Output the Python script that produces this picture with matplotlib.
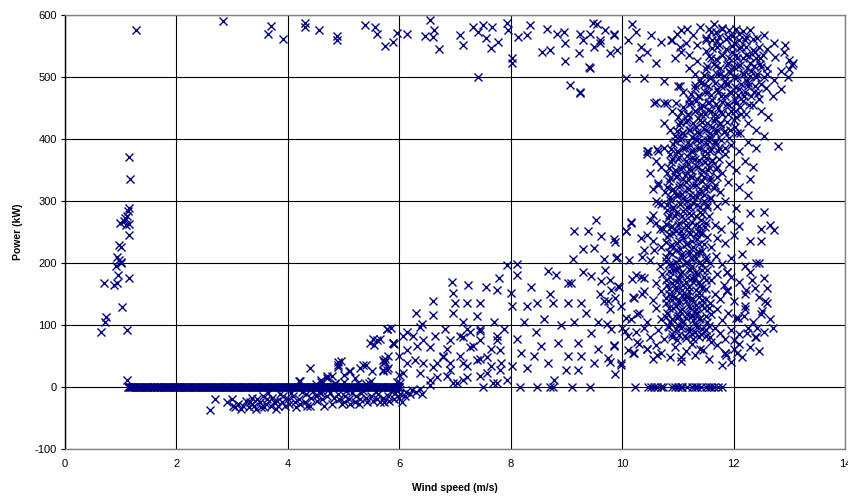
import matplotlib
matplotlib.use('Agg')
import matplotlib.pyplot as plt
import numpy as np

plt.rcParams['font.family'] = ['Liberation Sans', 'DejaVu Sans']
plt.rcParams['axes.unicode_minus'] = False

# values (wind speed m/s, power kW)
startup = [(1.27, 576), (1.15, 371), (1.17, 336), (1.15, 289), (1.13, 283), (1.12, 276),
           (1.08, 272), (1.05, 268), (0.98, 265), (1.15, 263), (1.14, 245), (0.97, 229),
           (1.0, 225), (1.1, 262), (0.93, 210), (0.97, 205), (0.92, 195), (1.0, 202),
           (0.95, 180), (0.93, 167), (0.87, 165), (0.7, 167), (1.15, 176), (0.73, 113),
           (0.72, 105), (0.65, 88), (1.03, 129), (1.12, 92), (1.12, 12), (1.0, 200)]

zero_x = [1.13, 1.16, 1.2, 1.25, 1.28, 1.33, 1.36, 1.41, 1.45, 1.48,
          1.53, 1.57, 1.6, 1.65, 1.69, 1.72, 1.77, 1.81, 1.85, 1.88,
          1.93, 1.97, 2.01, 2.05, 2.08, 2.13, 2.17, 2.2, 2.25, 2.29,
          2.33, 2.36, 2.41, 2.45, 2.48, 2.53, 2.57, 2.61, 2.64, 2.69,
          2.73, 2.77, 2.8, 2.85, 2.89, 2.93, 2.96, 3.01, 3.05, 3.09,
          3.12, 3.17, 3.21, 3.25, 3.28, 3.33, 3.37, 3.41, 3.44, 3.49,
          3.53, 3.57, 3.6, 3.65, 3.69, 3.73, 3.76, 3.81, 3.85, 3.89,
          3.92, 3.97, 4.01, 4.05, 4.08, 4.13, 4.17, 4.21, 4.24, 4.29,
          4.33, 4.37, 4.4, 4.45, 4.49, 4.53, 4.56, 4.61, 4.65, 4.69,
          4.72, 4.77, 4.81, 4.85, 4.88, 4.93, 4.97, 5.01, 5.04, 5.09,
          5.13, 5.17, 5.2, 5.25, 5.29, 5.33, 5.36, 5.41, 5.45, 5.49,
          5.52, 5.57, 5.61, 5.65, 5.68, 5.73, 5.77, 5.81, 5.84, 5.89,
          5.93, 5.97, 6.0]

zero_x2 = [1.15, 1.18, 1.22, 1.27, 1.31, 1.35, 1.39, 1.43, 1.47, 1.51,
           1.55, 1.59, 1.63, 1.67, 1.71, 1.75, 1.79, 1.83, 1.87, 1.91,
           1.95, 1.99, 2.03, 2.07, 2.11, 2.15, 2.19, 2.23, 2.27, 2.31,
           2.35, 2.39, 2.43, 2.47, 2.51, 2.55, 2.59, 2.63, 2.67, 2.71,
           2.75, 2.79, 2.83, 2.87, 2.91, 2.95, 2.99, 3.03, 3.07, 3.11,
           3.15, 3.19, 3.23, 3.27, 3.31, 3.35, 3.39, 3.43, 3.47, 3.51,
           3.55, 3.59, 3.63, 3.67, 3.71, 3.75, 3.79, 3.83, 3.87, 3.91,
           3.95, 3.99, 4.03, 4.07, 4.11, 4.15, 4.19, 4.23, 4.27, 4.31,
           4.35, 4.39, 4.43, 4.47, 4.51, 4.55, 4.59, 4.63, 4.67, 4.71,
           4.75, 4.79, 4.83, 4.87, 4.91, 4.95, 4.99, 5.03, 5.07, 5.11,
           5.15, 5.19, 5.23, 5.27, 5.31, 5.35, 5.39, 5.43, 5.47, 5.51,
           5.55, 5.59, 5.63, 5.67, 5.71, 5.75, 5.79, 5.83, 5.87, 5.91,
           5.95, 5.99]

stop_x = [8.17, 8.47, 8.7, 8.75, 9.1, 9.43, 10.23, 10.47, 10.52, 10.58,
          10.63, 10.7, 10.74, 10.9, 10.95, 11.0, 11.05, 11.08, 11.17, 11.25,
          11.3, 11.35, 11.42, 11.5, 11.55, 11.6, 11.65, 11.72, 11.8, 7.5]

negative = [(2.6, -37), (2.7, -20), (2.9, -25), (3.0, -20), (3.02, -30), (3.05, -33), (3.1, -27),
            (3.15, -35), (3.2, -30), (3.25, -22), (3.3, -33), (3.32, -25), (3.35, -18), (3.4, -30),
            (3.42, -35), (3.45, -20), (3.5, -25), (3.52, -32), (3.55, -15), (3.6, -28), (3.62, -20),
            (3.65, -10), (3.7, -30), (3.72, -18), (3.75, -25), (3.8, -22), (3.82, -30), (3.85, -12),
            (3.9, -25), (3.92, -15), (3.95, -30), (4.0, -20), (4.02, -28), (4.05, -10), (4.1, -15),
            (4.12, -25), (4.2, -20), (4.22, -28), (4.25, -8), (4.3, -25), (4.32, -12), (4.4, -30),
            (4.42, -18), (4.5, -15), (4.52, -22), (4.55, -8), (4.6, -10), (4.62, -20), (4.7, -15),
            (4.72, -5), (4.8, -28), (4.82, -18), (4.9, -12), (4.92, -20), (5.0, -25), (5.02, -15),
            (5.1, -20), (5.12, -28), (5.15, -10), (5.2, -25), (5.22, -15), (5.3, -20), (5.32, -10),
            (5.4, -18), (5.42, -25), (5.5, -15), (5.52, -22), (5.6, -20), (5.62, -12), (5.7, -18),
            (5.72, -25), (5.8, -15), (5.82, -22), (5.9, -20), (5.92, -10), (6.0, -18), (6.02, -12),
            (6.1, -15), (6.12, -8), (6.2, -12), (6.22, -5), (6.3, -8), (6.4, -12), (3.35, -28),
            (3.58, -33), (3.78, -35), (4.15, -32), (4.35, -30), (4.65, -30), (4.98, -28),
            (5.28, -27), (5.65, -24), (6.05, -25), (4.45, -6), (4.75, -9), (5.05, -7), (5.35, -6),
            (5.58, -8), (5.85, -6), (4.85, 6), (5.45, 7), (5.95, 8)]

low = [(4.4, 30), (4.2, 10), (4.5, 5), (4.6, 12), (4.7, 15), (4.8, 18), (4.9, 35), (4.95, 42),
       (5.0, 20), (5.1, 25), (5.2, 15), (5.3, 30), (5.4, 35), (5.5, 10), (5.6, 75), (5.65, 78),
       (5.55, 68), (5.8, 50), (5.75, 40), (5.8, 30), (5.85, 95), (5.9, 70), (6.0, 50), (6.0, 20),
       (5.7, 25), (5.4, 5), (5.0, 8), (4.85, 5), (5.78, 93), (5.53, 77), (5.48, 71), (5.89, 71),
       (5.71, 44), (5.72, 40), (4.9, 41), (4.9, 32), (5.35, 35), (5.12, 25), (5.51, 25),
       (5.7, 27), (4.22, 9), (4.7, 17), (4.6, 8), (5.25, 6)]

rising = [(6.94, 169), (6.96, 152), (7.24, 165), (6.61, 138), (6.3, 119), (6.6, 116), (7.21, 136),
          (7.55, 162), (7.79, 176), (7.76, 156), (7.94, 196), (8.12, 198), (8.12, 180), (8.0, 152),
          (8.03, 130), (8.36, 162), (8.66, 187), (8.81, 181), (9.02, 168), (9.14, 251), (9.38, 251),
          (9.53, 270), (9.62, 244), (9.86, 238), (10.16, 266), (10.07, 251), (9.11, 206), (9.29, 222),
          (9.5, 224), (9.68, 206), (9.89, 208), (9.44, 179), (9.62, 171), (9.08, 168), (9.26, 136),
          (9.02, 136), (9.8, 157), (9.92, 163), (9.74, 138), (9.98, 130), (8.75, 136), (8.48, 136),
          (8.3, 130), (8.6, 109), (8.24, 104), (8.12, 77), (8.18, 55), (8.42, 50), (8.66, 39),
          (8.78, 12), (8.3, 31), (8.03, 34), (9.02, 50), (9.2, 71), (9.44, 87), (9.56, 61),
          (9.86, 66), (9.98, 39), (9.26, 50), (9.8, 93), (10.1, 82), (10.22, 55), (9.56, 104),
          (9.14, 104), (8.84, 71), (8.54, 66), (8.99, 28), (9.2, 28), (9.5, 39), (9.74, 47),
          (7.09, 82), (6.85, 61), (6.67, 39), (6.43, 39), (6.13, 39), (6.07, 82), (6.4, 101),
          (7.15, 104), (7.4, 114), (7.45, 90), (7.7, 104), (7.88, 93), (7.76, 82), (7.33, 66),
          (7.09, 50), (6.91, 39), (7.21, 34), (7.45, 45), (7.64, 61), (7.82, 39), (7.45, 18),
          (7.15, 12), (6.85, 18), (6.55, 12), (6.37, -4), (6.01, 7), (5.77, 28), (5.74, 45),
          (5.89, 71), (5.77, 93), (6.97, 120), (7.0, 136), (7.45, 136), (6.64, 82), (6.25, 82),
          (6.31, 66), (7.64, 34), (7.94, 12), (7.76, 7), (7.03, 7), (6.79, 50), (7.27, 88),
          (6.82, 93), (6.13, 89), (6.37, 97), (6.43, 76), (6.55, 65), (6.13, 59), (6.28, 43),
          (6.07, 22), (6.37, 22), (6.61, 33), (6.79, 49), (6.91, 76), (7.15, 81), (7.27, 65),
          (7.45, 76), (7.57, 49), (7.75, 76), (7.81, 59), (7.39, 43), (7.15, 38), (6.91, 27),
          (6.67, 16), (7.21, 16), (7.57, 22), (7.81, 27), (7.69, 6), (6.97, 6), (6.55, 3),
          (7.45, 94), (7.21, 94), (10.46, 380), (10.64, 329), (10.64, 297), (10.55, 278),
          (10.67, 254), (10.15, 264), (10.06, 251), (9.88, 234), (10.33, 240), (10.39, 221),
          (10.57, 221), (9.91, 210), (10.12, 204), (9.7, 188), (9.79, 172), (9.94, 161),
          (10.18, 174), (10.33, 177), (9.88, 144), (10.21, 144), (10.39, 155), (9.67, 139),
          (9.79, 125), (10.06, 111), (10.27, 117), (9.73, 101), (10.0, 95), (9.85, 68), (9.79, 40),
          (9.97, 35), (9.88, 21), (10.27, 73), (10.45, 62), (10.63, 51), (11.05, 49), (11.4, 62),
          (11.86, 51), (8.9, 100), (9.35, 120), (8.45, 88), (9.6, 150), (8.7, 150), (9.3, 185)]

top = [(2.84, 590), (3.69, 582), (3.65, 570), (3.92, 561), (4.31, 587), (4.31, 581), (4.55, 575),
       (4.88, 560), (4.89, 566), (5.39, 584), (5.57, 580), (5.6, 570), (5.75, 550), (5.89, 557),
       (5.95, 571), (6.13, 570), (6.55, 591), (6.46, 566), (6.6, 565), (6.62, 575), (6.72, 545),
       (7.09, 568), (7.15, 552), (7.33, 580), (7.42, 572), (7.51, 584), (7.66, 580), (7.56, 563),
       (7.77, 557), (7.64, 546), (7.42, 500), (7.93, 587), (7.95, 575), (8.02, 530), (8.02, 522),
       (8.13, 565), (8.29, 568), (8.34, 584), (8.65, 577), (8.71, 544), (8.56, 540), (8.83, 570),
       (8.95, 572), (8.97, 554), (8.97, 525), (9.25, 570), (9.22, 538), (9.4, 516), (9.48, 587),
       (9.6, 554), (9.7, 575), (9.78, 538), (9.85, 567), (9.07, 487), (9.25, 476), (9.55, 586),
       (9.43, 570), (9.61, 559), (9.85, 570), (9.91, 543), (9.43, 515), (10.18, 586),
       (10.24, 573), (10.33, 548), (10.51, 567), (10.6, 523), (10.69, 556), (10.87, 559),
       (10.99, 570), (11.04, 548), (11.16, 578), (10.06, 499), (10.39, 499), (10.75, 493),
       (11.04, 485), (10.57, 458), (10.75, 458), (10.96, 458), (10.45, 376), (10.63, 384),
       (9.25, 474), (9.3, 560), (9.5, 548), (10.1, 560), (10.3, 530), (10.45, 540)]

band = [(10.45, 62), (10.55, 45), (10.7, 55), (10.85, 48), (10.95, 65), (11.05, 42), (11.15, 58),
        (11.3, 52), (11.45, 60), (11.55, 45), (11.7, 68), (11.85, 55), (12.0, 62), (12.15, 48),
        (10.3, 70), (10.2, 55), (11.25, 70), (11.6, 72), (11.95, 40), (12.3, 65), (12.45, 58),
        (10.1, 60), (11.8, 35), (10.6, 68),
        (10.25, 88), (10.4, 95), (10.5, 80), (10.65, 92), (10.75, 78), (10.82, 98), (10.9, 85),
        (10.98, 75), (11.05, 95), (11.12, 82), (11.2, 90), (11.28, 77), (11.35, 97), (11.42, 85),
        (11.5, 92), (11.58, 80), (11.66, 95), (11.75, 87), (11.85, 78), (11.95, 92), (12.1, 85),
        (12.25, 95), (12.4, 80), (12.55, 88), (12.7, 95), (10.05, 90), (11.0, 100), (11.3, 88),
        (12.0, 75),
        (10.3, 120), (10.45, 105), (10.6, 128), (10.7, 110), (10.8, 120), (10.86, 105),
        (10.92, 128), (10.98, 112), (11.04, 122), (11.1, 104), (11.16, 118), (11.22, 127),
        (11.28, 108), (11.34, 120), (11.4, 112), (11.46, 128), (11.52, 104), (11.6, 118),
        (11.7, 125), (11.8, 108), (11.9, 120), (12.05, 112), (12.2, 125), (12.35, 105),
        (12.5, 118), (12.65, 110), (10.15, 110), (11.0, 115), (11.25, 115),
        (10.35, 150), (10.55, 140), (10.7, 155), (10.78, 135), (10.84, 150), (10.9, 140),
        (10.96, 157), (11.02, 135), (11.08, 148), (11.14, 138), (11.2, 155), (11.26, 143),
        (11.32, 132), (11.38, 152), (11.44, 140), (11.5, 158), (11.58, 135), (11.66, 150),
        (11.76, 142), (11.88, 155), (12.0, 138), (12.2, 150), (12.45, 145), (12.6, 135),
        (10.2, 145), (10.95, 145), (11.17, 145),
        (10.4, 175), (10.6, 168), (10.72, 182), (10.8, 165), (10.86, 178), (10.92, 188),
        (10.98, 170), (11.04, 182), (11.1, 165), (11.16, 177), (11.22, 188), (11.28, 170),
        (11.34, 182), (11.4, 165), (11.46, 177), (11.52, 188), (11.6, 172), (11.7, 182),
        (11.82, 165), (11.95, 178), (12.1, 170), (12.3, 185), (12.55, 175), (10.25, 180),
        (11.0, 175), (11.3, 176),
        (10.5, 205), (10.68, 195), (10.78, 210), (10.84, 198), (10.9, 215), (10.96, 202),
        (11.02, 192), (11.08, 210), (11.14, 200), (11.2, 215), (11.26, 195), (11.32, 208),
        (11.38, 218), (11.44, 198), (11.5, 210), (11.58, 200), (11.68, 212), (11.8, 198),
        (11.95, 208), (12.15, 215), (12.4, 200), (12.2, 195), (10.35, 210),
        (10.55, 235), (10.7, 225), (10.8, 242), (10.86, 228), (10.92, 248), (10.98, 232),
        (11.04, 222), (11.1, 240), (11.16, 230), (11.22, 247), (11.28, 225), (11.34, 238),
        (11.4, 248), (11.46, 230), (11.52, 242), (11.6, 225), (11.7, 240), (11.85, 232),
        (12.0, 245), (12.3, 235), (12.5, 255), (10.45, 245),
        (10.6, 265), (10.74, 255), (10.82, 272), (10.88, 258), (10.94, 275), (11.0, 262),
        (11.06, 252), (11.12, 270), (11.18, 258), (11.24, 278), (11.3, 262), (11.36, 252),
        (11.42, 270), (11.48, 258), (11.56, 275), (11.66, 262), (11.78, 255), (11.95, 270),
        (12.3, 280), (12.1, 260), (10.5, 270),
        (10.7, 295), (10.8, 285), (10.86, 302), (10.92, 290), (10.98, 308), (11.04, 295),
        (11.1, 283), (11.16, 300), (11.22, 290), (11.28, 307), (11.34, 293), (11.4, 282),
        (11.46, 300), (11.52, 290), (11.6, 305), (11.7, 292), (11.85, 300), (12.05, 288),
        (12.25, 310), (10.6, 300),
        (10.65, 325), (10.76, 315), (10.84, 332), (10.9, 318), (10.96, 338), (11.02, 322),
        (11.08, 312), (11.14, 330), (11.2, 320), (11.26, 338), (11.32, 325), (11.38, 313),
        (11.44, 332), (11.5, 320), (11.58, 338), (11.66, 325), (11.76, 315), (11.9, 330),
        (12.1, 322), (12.3, 335), (10.55, 320),
        (10.7, 355), (10.8, 345), (10.88, 362), (10.94, 350), (11.0, 368), (11.06, 352),
        (11.12, 342), (11.18, 360), (11.24, 350), (11.3, 368), (11.36, 355), (11.42, 343),
        (11.48, 362), (11.54, 350), (11.62, 366), (11.7, 355), (11.8, 345), (11.92, 360),
        (12.05, 350), (12.2, 365), (12.35, 355), (10.6, 365), (10.5, 345),
        (10.75, 385), (10.85, 375), (10.92, 392), (10.98, 380), (11.04, 398), (11.1, 385),
        (11.16, 373), (11.22, 390), (11.28, 380), (11.34, 398), (11.4, 385), (11.46, 373),
        (11.52, 392), (11.58, 380), (11.66, 396), (11.74, 385), (11.84, 375), (11.95, 390),
        (12.1, 380), (12.25, 395), (12.4, 385), (10.65, 380), (12.8, 389), (10.44, 380),
        (10.85, 415), (10.95, 405), (11.02, 422), (11.08, 410), (11.14, 428), (11.2, 415),
        (11.26, 403), (11.32, 420), (11.38, 410), (11.44, 428), (11.5, 415), (11.56, 403),
        (11.62, 420), (11.68, 410), (11.76, 426), (11.84, 412), (11.92, 402), (12.02, 420),
        (12.12, 410), (12.25, 425), (12.4, 415), (10.75, 425), (12.55, 405),
        (10.9, 445), (11.0, 435), (11.1, 452), (11.18, 440), (11.24, 458), (11.3, 445),
        (11.36, 433), (11.42, 450), (11.48, 440), (11.54, 458), (11.6, 445), (11.66, 433),
        (11.72, 450), (11.8, 440), (11.88, 456), (11.96, 445), (12.04, 435), (12.12, 452),
        (12.22, 440), (12.35, 455), (12.5, 445), (10.6, 460), (10.8, 458), (12.62, 435),
        (11.1, 475), (11.2, 465), (11.3, 482), (11.38, 470), (11.46, 488), (11.54, 475),
        (11.62, 463), (11.7, 480), (11.78, 470), (11.86, 488), (11.94, 475), (12.02, 463),
        (12.1, 480), (12.18, 470), (12.26, 486), (12.36, 475), (12.46, 465), (12.58, 482),
        (12.7, 470), (11.0, 485), (12.85, 480),
        (11.3, 505), (11.4, 495), (11.5, 512), (11.6, 500), (11.68, 518), (11.76, 505),
        (11.84, 493), (11.92, 510), (12.0, 500), (12.08, 518), (12.16, 505), (12.24, 493),
        (12.32, 510), (12.4, 500), (12.5, 516), (12.6, 505), (12.72, 495), (12.85, 510),
        (12.98, 500), (11.2, 515), (13.05, 520),
        (11.2, 535), (11.35, 525), (11.5, 542), (11.6, 530), (11.7, 548), (11.8, 535),
        (11.9, 523), (11.98, 540), (12.06, 530), (12.14, 548), (12.22, 535), (12.3, 523),
        (12.38, 540), (12.48, 530), (12.6, 545), (12.75, 532), (12.9, 540), (13.0, 528),
        (11.05, 540), (10.95, 530), (13.07, 523), (12.93, 551), (12.99, 513),
        (10.9, 560), (11.05, 575), (11.15, 555), (11.28, 568), (11.4, 580), (11.5, 560),
        (11.6, 572), (11.7, 558), (11.8, 578), (11.9, 565), (12.0, 555), (12.1, 570),
        (12.2, 560), (12.3, 575), (12.42, 562), (12.55, 568), (12.72, 555), (11.35, 552),
        (11.65, 585),
        (12.54, 282), (12.66, 262), (12.73, 253), (12.49, 235), (12.45, 200), (12.33, 173),
        (12.39, 160), (12.6, 160), (12.23, 157), (12.57, 138), (12.51, 122), (12.21, 130),
        (12.18, 114), (12.42, 95), (12.24, 87), (12.39, 81), (12.09, 70), (12.06, 54),
        (11.88, 186), (11.88, 157), (11.85, 54), (11.89, 185), (11.89, 155), (12.07, 111)]

core = [(10.9, 80), (11.02, 84), (11.14, 79), (11.26, 85), (11.38, 81), (11.5, 83),
        (10.84, 97), (10.96, 93), (11.08, 99), (11.2, 95), (11.32, 100), (11.44, 94), (11.56, 98),
        (10.78, 113), (10.9, 109), (11.02, 115), (11.14, 111), (11.26, 116), (11.38, 110), (11.5, 114),
        (10.84, 127), (10.96, 131), (11.08, 125), (11.2, 130), (11.32, 126), (11.44, 132), (11.56, 128),
        (10.78, 143), (10.9, 147), (11.02, 141), (11.14, 146), (11.26, 140), (11.38, 145), (11.5, 142),
        (10.84, 158), (10.96, 162), (11.08, 156), (11.2, 161), (11.32, 157), (11.44, 160),
        (10.78, 172), (10.9, 168), (11.02, 174), (11.14, 170), (11.26, 175), (11.38, 169), (11.5, 173),
        (10.84, 187), (10.96, 191), (11.08, 185), (11.2, 190), (11.32, 186), (11.44, 189),
        (10.78, 203), (10.9, 199), (11.02, 205), (11.14, 201), (11.26, 206), (11.38, 200), (11.5, 204),
        (10.84, 217), (10.96, 221), (11.08, 215), (11.2, 220), (11.32, 216), (11.44, 219),
        (10.78, 233), (10.9, 229), (11.02, 235), (11.14, 231), (11.26, 236), (11.38, 230),
        (10.84, 247), (10.96, 251), (11.08, 245), (11.2, 250), (11.32, 246), (11.44, 249),
        (10.78, 263), (10.9, 259), (11.02, 265), (11.14, 261), (11.26, 266), (11.38, 260), (11.5, 264),
        (10.84, 277), (10.96, 281), (11.08, 275), (11.2, 280), (11.32, 276), (11.44, 279),
        (10.8, 293), (10.92, 289), (11.04, 295), (11.16, 291), (11.28, 296), (11.4, 290), (11.52, 294),
        (10.86, 307), (10.98, 311), (11.1, 305), (11.22, 310), (11.34, 306), (11.46, 309), (11.58, 304),
        (10.8, 323), (10.92, 319), (11.04, 325), (11.16, 321), (11.28, 326), (11.4, 320), (11.52, 324),
        (11.64, 321),
        (10.86, 337), (10.98, 341), (11.1, 335), (11.22, 340), (11.34, 336), (11.46, 339), (11.58, 334),
        (11.7, 338),
        (10.84, 353), (10.96, 349), (11.08, 355), (11.2, 351), (11.32, 356), (11.44, 350), (11.56, 354),
        (11.68, 351),
        (10.9, 367), (11.02, 371), (11.14, 365), (11.26, 370), (11.38, 366), (11.5, 369), (11.62, 364),
        (11.74, 368),
        (10.88, 383), (11.0, 379), (11.12, 385), (11.24, 381), (11.36, 386), (11.48, 380), (11.6, 384),
        (11.72, 381), (11.84, 385),
        (10.94, 397), (11.06, 401), (11.18, 395), (11.3, 400), (11.42, 396), (11.54, 399), (11.66, 394),
        (11.78, 398),
        (10.98, 413), (11.1, 409), (11.22, 415), (11.34, 411), (11.46, 416), (11.58, 410), (11.7, 414),
        (11.82, 411), (11.94, 415), (12.06, 410),
        (11.04, 427), (11.16, 431), (11.28, 425), (11.4, 430), (11.52, 426), (11.64, 429), (11.76, 424),
        (11.88, 428), (12.0, 431),
        (11.06, 443), (11.18, 439), (11.3, 445), (11.42, 441), (11.54, 446), (11.66, 440), (11.78, 444),
        (11.9, 441), (12.02, 445), (12.14, 440),
        (11.2, 457), (11.32, 461), (11.44, 455), (11.56, 460), (11.68, 456), (11.8, 459), (11.92, 454),
        (12.04, 458), (12.16, 461), (12.28, 455),
        (11.24, 473), (11.36, 469), (11.48, 475), (11.6, 471), (11.72, 476), (11.84, 470), (11.96, 474),
        (12.08, 471), (12.2, 475), (12.32, 470), (12.44, 474),
        (11.3, 487), (11.42, 491), (11.54, 485), (11.66, 490), (11.78, 486), (11.9, 489), (12.02, 484),
        (12.14, 488), (12.26, 491), (12.38, 485), (12.5, 489),
        (11.46, 503), (11.58, 499), (11.7, 505), (11.82, 501), (11.94, 506), (12.06, 500), (12.18, 504),
        (12.3, 501), (12.42, 505), (12.54, 500),
        (11.52, 517), (11.64, 521), (11.76, 515), (11.88, 520), (12.0, 516), (12.12, 519), (12.24, 514),
        (12.36, 518), (12.48, 521), (12.6, 515),
        (11.56, 533), (11.68, 529), (11.8, 535), (11.92, 531), (12.04, 536), (12.16, 530), (12.28, 534),
        (12.4, 531), (12.52, 535),
        (11.62, 547), (11.74, 551), (11.86, 545), (11.98, 550), (12.1, 546), (12.22, 549), (12.34, 544),
        (12.46, 548),
        (11.5, 563), (11.62, 559), (11.74, 565), (11.86, 561), (11.98, 566), (12.1, 560), (12.22, 564),
        (12.34, 561),
        (11.56, 577), (11.68, 573), (11.8, 579), (11.92, 575), (12.04, 578), (12.16, 574)]

XTICKS = [0, 2, 4, 6, 8, 10, 12, 14]
YTICKS = [-100, 0, 100, 200, 300, 400, 500, 600]

fig = plt.figure(figsize=(8.48, 4.97), dpi=100)
ax = fig.add_axes([0.0767, 0.0966, 0.9198, 0.8734])

style = dict(linestyle='none', marker='x', color='#000080', markersize=6, markeredgewidth=1.0)
for pts in (startup, negative, low, rising, top, band, core):
    xs, ys = zip(*pts)
    ax.plot(xs, ys, **style)
for xs in (zero_x, zero_x2, stop_x):
    ax.plot(xs, np.zeros(len(xs)), **style)

ax.set_xlim(0, 14)
ax.set_ylim(-100, 600)
ax.set_xticks(XTICKS)
ax.set_yticks(YTICKS)
ax.grid(True, color='black', linewidth=0.8)
ax.set_axisbelow(True)
for s in ax.spines.values():
    s.set_color('#808080')
    s.set_linewidth(1.0)
ax.spines['left'].set_color('black')
ax.tick_params(axis='y', direction='out', length=3, width=0.8, color='black', labelsize=8, pad=3)
ax.tick_params(axis='x', length=0, labelsize=8, pad=7)

ax.set_xlabel('Wind speed (m/s)', fontsize=7.5, fontweight='bold', labelpad=10)
ax.set_ylabel('Power (kW)', fontsize=7.5, fontweight='bold', labelpad=8)

fig.savefig('out.png', dpi=100)
